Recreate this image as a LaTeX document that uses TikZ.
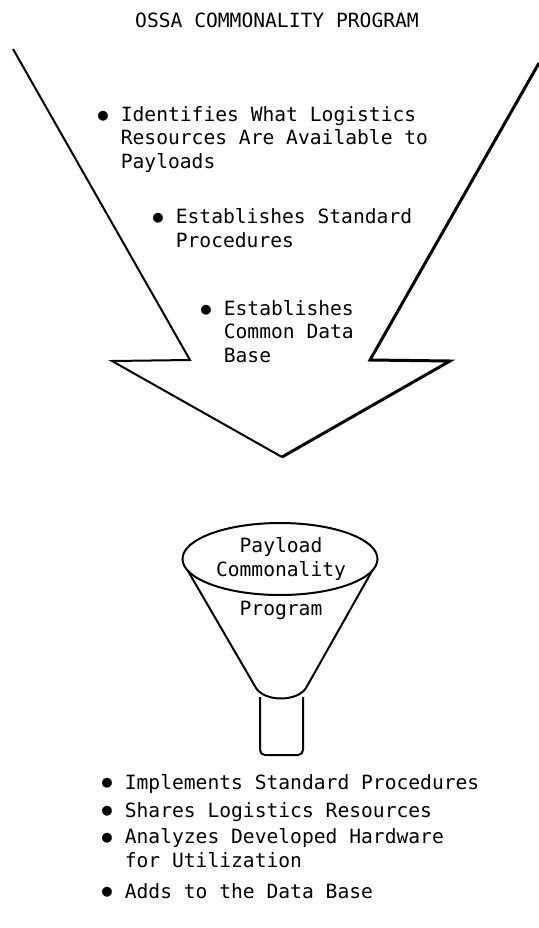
\documentclass[tikz,border=0pt]{standalone}
\usepackage{fontspec}
\setmainfont{DejaVu Sans Mono}
\usetikzlibrary{positioning}

\newcommand{\monosize}{\fontsize{19.7pt}{23.5pt}\selectfont}
\newcommand{\bigbul}{\makebox[0.602em]{\raisebox{0.06em}{\fontsize{16.5pt}{16.5pt}\selectfont ●}}}
\newcommand{\itembul}{\bigbul\ }
\newcommand{\itempad}{\hphantom{\bigbul\ }}

\begin{document}
\begin{tikzpicture}[
    x=1bp, y=-1bp,
    every node/.style={font=\monosize, inner sep=0pt},
    txt/.style={align=left, anchor=base west},
    ctr/.style={align=center, anchor=base},
    thinline/.style={line width=2bp, line join=miter},
    thickline/.style={line width=3bp, line join=miter},
]
    \useasboundingbox (0,0) rectangle (539,928);

    % TITLE
    \node[ctr] (title) at (277,27) {OSSA COMMONALITY PROGRAM};

    % BIG ARROW (left half thin, right half thick)
    \coordinate (tip) at (282,457);
    \draw[thinline] (13,49) -- (190,360) -- (112,361) -- (tip);
    \draw[thickline] (tip) -- (450,361) -- (370,360) -- (539,63);

    % (base of a multi-line node = its last line)
    \node[txt] (ident) at (97,168) {\itembul Identifies What Logistics\\ \itempad Resources Are Available to\\ \itempad Payloads};
    \node[txt] (proc) at (152,247) {\itembul Establishes Standard\\ \itempad Procedures};
    \node[txt] (data) at (200,362) {\itembul Establishes\\ \itempad Common Data\\ \itempad Base};

    % FUNNEL
    \draw[thinline] (280,559) ellipse [x radius=97.5bp, y radius=36bp];
    \draw[thinline] (188,571) -- (256,688) .. controls (265,702) and (297,702) .. (306,688) -- (372,571);
    \draw[thinline, rounded corners=5bp] (260,697) -- (260,755) -- (303,755) -- (303,697);
    \node[ctr] (pay) at (281,552) {Payload};
    \node[ctr] (com) at (281,576) {Commonality};
    \node[ctr] (prog) at (281,615) {Program};

    % RESULTS (below)
    \node[txt] (impl) at (101,789) {\itembul Implements Standard Procedures};
    \node[txt] (share) at (101,817) {\itembul Shares Logistics Resources};
    \node[txt] (anal) at (101,867) {\itembul Analyzes Developed Hardware\\ \itempad for Utilization};
    \node[txt] (adds) at (101,898) {\itembul Adds to the Data Base};
\end{tikzpicture}
\end{document}
